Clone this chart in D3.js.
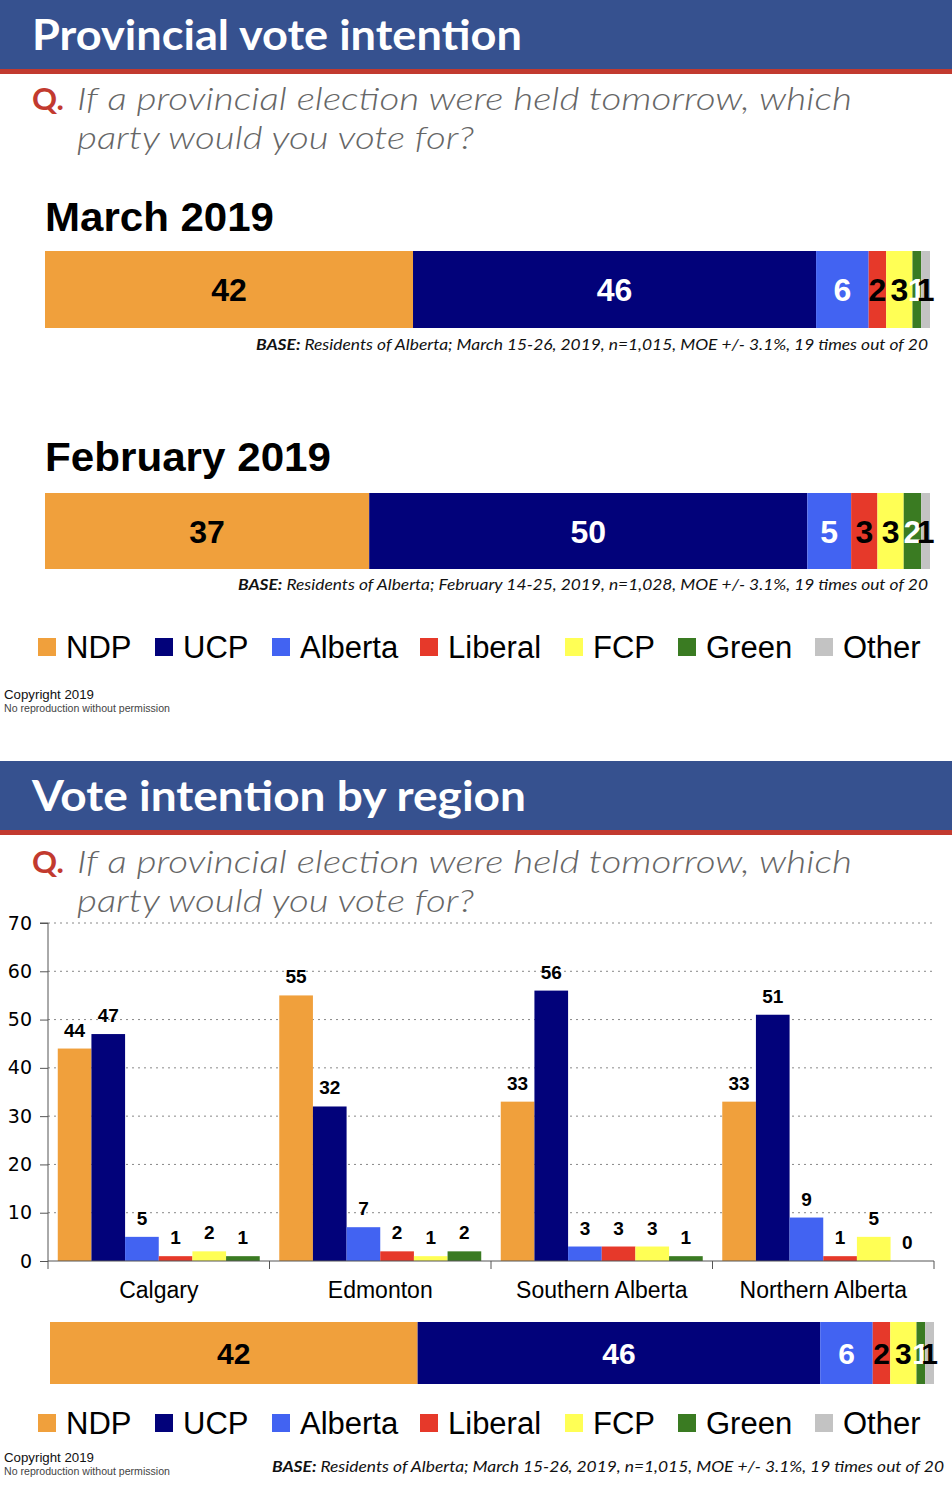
<!DOCTYPE html>
<html><head><meta charset="utf-8">
<script src="https://cdn.jsdelivr.net/npm/d3@7"></script>
<style>body{margin:0;background:#fff}svg{display:block}</style>
</head><body>
<script>
// ---- data ----
const parties = ["NDP","UCP","Alberta","Liberal","FCP","Green","Other"];
const partyColors = ["#F0A03C","#02027A","#4263F2","#E6392A","#FFFF55","#3A7B22","#C3C3C3"];
const labelColors = ["#000","#fff","#fff","#000","#000","#fff","#000"];
const march2019 = [42,46,6,2,3,1,1];
const february2019 = [37,50,5,3,3,2,1];
const regions = ["Calgary","Edmonton","Southern Alberta","Northern Alberta"];
const regionParties = ["NDP","UCP","Alberta","Liberal","FCP","Green"];
const calgary = [44,47,5,1,2,1];
const edmonton = [55,32,7,2,1,2];
const southernAlberta = [33,56,3,3,3,1];
const northernAlberta = [33,51,9,1,5,0];
const regionValues = [calgary, edmonton, southernAlberta, northernAlberta];
const yTicks = [0,10,20,30,40,50,60,70];
const baseMarch = "Residents of Alberta; March 15-26, 2019, n=1,015, MOE +/- 3.1%, 19 times out of 20";
const baseFeb = "Residents of Alberta; February 14-25, 2019, n=1,028, MOE +/- 3.1%, 19 times out of 20";

const W = 952, H = 1501;
const svg = d3.select("body").append("svg").attr("width", W).attr("height", H);
const BLUE = "#36518F", RED = "#C23A2F";

function header(y0, title, tl, qy) {
  svg.append("rect").attr("x",0).attr("y",y0).attr("width",W).attr("height",69).attr("fill",BLUE);
  svg.append("rect").attr("x",0).attr("y",y0+69).attr("width",W).attr("height",5).attr("fill",RED);
  svg.append("text").attr("x",32).attr("y",y0+50).text(title)
    .attr("font-family","Lato").attr("font-weight","bold").attr("font-size",42).attr("fill","#fff")
    .attr("textLength", tl).attr("lengthAdjust","spacingAndGlyphs");
  svg.append("text").attr("x",32).attr("y",qy).text("Q.")
    .attr("font-family","Lato").attr("font-weight","bold").attr("font-size",31).attr("fill",RED);
  svg.append("text").attr("x",77).attr("y",qy).text("If a provincial election were held tomorrow, which")
    .attr("font-family","Lato").attr("font-style","italic").attr("font-weight",300).attr("font-size",32).attr("fill","#666")
    .attr("textLength",775).attr("lengthAdjust","spacingAndGlyphs");
  svg.append("text").attr("x",77).attr("y",qy+39).text("party would you vote for?")
    .attr("font-family","Lato").attr("font-style","italic").attr("font-weight",300).attr("font-size",32).attr("fill","#666")
    .attr("textLength",397).attr("lengthAdjust","spacingAndGlyphs");
}

function stackedBar(values, x0, x1, y0, h, fs) {
  const total = d3.sum(values);
  const x = d3.scaleLinear().domain([0,total]).range([x0,x1]);
  let cum = 0;
  const segs = values.map((v,i)=>{ const s={v,i,a:cum,b:cum+v}; cum+=v; return s; });
  const g = svg.append("g");
  g.selectAll("rect").data(segs).join("rect")
    .attr("x",d=>x(d.a)).attr("y",y0).attr("width",d=>x(d.b)-x(d.a)).attr("height",h)
    .attr("fill",d=>partyColors[d.i]);
  g.selectAll("text").data(segs).join("text")
    .attr("x",d=>(x(d.a)+x(d.b))/2).attr("y",y0+h/2+fs*0.36)
    .attr("text-anchor","middle").attr("font-family","Liberation Sans, Arial").attr("font-weight","bold")
    .attr("font-size",fs).attr("fill",d=>labelColors[d.i]).text(d=>d.v);
}

function baseNote(text, xEnd, y, width) {
  const t = svg.append("text").attr("x",xEnd-width).attr("y",y)
    .attr("font-family","Lato").attr("font-style","italic").attr("font-size",16).attr("fill","#111")
    .attr("textLength",width).attr("lengthAdjust","spacingAndGlyphs");
  t.append("tspan").attr("font-weight","bold").text("BASE:");
  t.append("tspan").text(" " + text);
}

function legend(cy) {
  const xs = [38,155,272,420,565,678,815];
  const g = svg.append("g");
  parties.forEach((p,i)=>{
    g.append("rect").attr("x",xs[i]).attr("y",cy-9).attr("width",18).attr("height",18).attr("fill",partyColors[i]);
    g.append("text").attr("x",xs[i]+28).attr("y",cy+11).text(p)
      .attr("font-family","Liberation Sans, Arial").attr("font-size",31).attr("fill","#000");
  });
}

function copyright(y) {
  svg.append("text").attr("x",4).attr("y",y).text("Copyright 2019")
    .attr("font-family","Liberation Sans, Arial").attr("font-size",13).attr("fill","#111")
    .attr("textLength",90).attr("lengthAdjust","spacingAndGlyphs");
  svg.append("text").attr("x",4).attr("y",y+13).text("No reproduction without permission")
    .attr("font-family","Liberation Sans, Arial").attr("font-size",10).attr("fill","#444")
    .attr("textLength",166).attr("lengthAdjust","spacingAndGlyphs");
}

// ---- Section 1 ----
header(0, "Provincial vote intention", 490, 110);
svg.append("text").attr("x",45).attr("y",231).text("March 2019")
  .attr("font-family","Liberation Sans, Arial").attr("font-weight","bold").attr("font-size",41).attr("fill","#000")
  .attr("textLength",229).attr("lengthAdjust","spacingAndGlyphs");
stackedBar(march2019, 45, 930, 251, 77, 32);
baseNote(baseMarch, 928, 350, 672);
svg.append("text").attr("x",45).attr("y",471).text("February 2019")
  .attr("font-family","Liberation Sans, Arial").attr("font-weight","bold").attr("font-size",41).attr("fill","#000")
  .attr("textLength",286).attr("lengthAdjust","spacingAndGlyphs");
stackedBar(february2019, 45, 930, 493, 76, 32);
baseNote(baseFeb, 928, 590, 690);
legend(647);
copyright(699);

// ---- Section 2 ----
header(761, "Vote intention by region", 494, 873);

const plotL = 48, plotR = 934, yTop = 923, yBot = 1261;
const y = d3.scaleLinear().domain([0,70]).range([yBot,yTop]);
const x0 = d3.scaleBand().domain(regions).range([plotL,plotR]).padding(0);
const x1 = d3.scaleBand().domain(regionParties).range([0,x0.bandwidth()]).paddingInner(0).paddingOuter(0.29);

const grid = svg.append("g");
grid.selectAll("line").data(yTicks.filter(d=>d>0)).join("line")
  .attr("x1",plotL).attr("x2",plotR).attr("y1",d=>y(d)).attr("y2",d=>y(d))
  .attr("stroke","#888").attr("stroke-width",1).attr("stroke-dasharray","2,4");

const groups = svg.append("g").selectAll("g").data(regions).join("g")
  .attr("transform",d=>`translate(${x0(d)},0)`);
groups.each(function(r,ri){
  const vals = regionValues[ri].map((v,i)=>({v,i,p:regionParties[i]}));
  const g = d3.select(this);
  g.selectAll("rect").data(vals).join("rect")
    .attr("x",d=>x1(d.p)).attr("y",d=>y(d.v)).attr("width",x1.bandwidth()).attr("height",d=>yBot-y(d.v))
    .attr("fill",d=>partyColors[d.i]);
  g.selectAll("text").data(vals).join("text")
    .attr("x",d=>x1(d.p)+x1.bandwidth()/2).attr("y",d=>y(d.v)-12)
    .attr("text-anchor","middle").attr("font-family","Liberation Sans, Arial").attr("font-weight","bold")
    .attr("font-size",19).attr("fill","#000").text(d=>d.v);
});

// y axis
const yAxis = d3.axisLeft(y).tickValues(yTicks).tickSize(8).tickPadding(8);
const ya = svg.append("g").attr("transform",`translate(${plotL},0)`).call(yAxis);
ya.select(".domain").attr("stroke","#555").attr("d",`M-8,${yTop}H0V${yBot}`);
ya.selectAll(".tick line").attr("stroke","#555");
ya.selectAll(".tick text").attr("font-family","DejaVu Sans").attr("font-size",19).attr("fill","#000");

// x axis
const xa = svg.append("g").attr("transform",`translate(0,${yBot})`)
  .call(d3.axisBottom(x0).tickSize(0).tickPadding(21));
xa.select(".domain").attr("stroke","#555").attr("d",`M${plotL},0H${plotR}`);
xa.selectAll(".tick text").attr("font-family","Liberation Sans, Arial").attr("font-size",23).attr("fill","#000");
svg.append("g").selectAll("line").data(regions.map(r=>x0(r)).concat([plotR])).join("line")
  .attr("x1",d=>d).attr("x2",d=>d).attr("y1",yBot).attr("y2",yBot+8).attr("stroke","#555");

stackedBar(march2019, 50, 934, 1322, 62, 30);
legend(1423);
copyright(1462);
baseNote(baseMarch, 944, 1472, 672);
</script>
</body></html>
